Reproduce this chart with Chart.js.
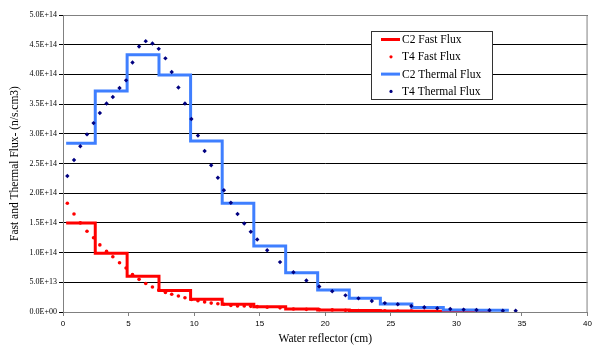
<!DOCTYPE html>
<html>
<head>
<meta charset="utf-8">
<script src="https://cdn.jsdelivr.net/npm/chart.js@4.4.1/dist/chart.umd.min.js"></script>
<style>
  body { margin: 0; background: #fff; }
  #wrap { width: 595px; height: 350px; }
</style>
</head>
<body>
<div id="wrap"><canvas id="flux-chart" width="595" height="350"></canvas></div>
<script>
// step boundaries (cm) and C2 levels
const thermalEdges = [0.24, 2.46, 4.89, 7.32, 9.73, 12.14, 14.55, 16.98, 19.42, 21.83, 24.2, 26.6, 29.0, 31.5, 34.0];
const c2Thermal = [2.84e14, 3.72e14, 4.33e14, 3.99e14, 2.88e14, 1.83e14, 1.11e14, 0.66e14, 0.37e14, 0.23e14, 0.135e14, 0.075e14, 0.035e14, 0.028e14];
const fastEdges = [0.24, 2.46, 4.89, 7.32, 9.73, 12.14, 14.55, 16.98, 19.42, 21.83, 24.2, 26.6, 29.0, 31.5, 32.6];
const c2Fast = [1.50e14, 0.99e14, 0.60e14, 0.36e14, 0.215e14, 0.13e14, 0.088e14, 0.05e14, 0.035e14, 0.025e14, 0.018e14, 0.012e14, 0.008e14, 0.006e14];

// T4 points
const t4X = [0.33, 0.84, 1.32, 1.83, 2.33, 2.81, 3.32, 3.80, 4.31, 4.81, 5.30, 5.80, 6.31, 6.82, 7.30, 7.81, 8.29, 8.80, 9.30, 9.79,
  10.29, 10.80, 11.30, 11.81, 12.27, 12.80, 13.31, 13.82, 14.32, 14.81, 15.57, 16.55, 17.57, 18.56, 19.54, 20.53, 21.54, 22.53, 23.55, 24.54,
  25.53, 26.56, 27.55, 28.54, 29.53, 30.55, 31.53, 32.52, 33.54, 34.52];
const t4Thermal = [2.29e14, 2.56e14, 2.79e14, 2.99e14, 3.18e14, 3.35e14, 3.51e14, 3.62e14, 3.77e14, 3.90e14, 4.20e14, 4.47e14, 4.56e14, 4.52e14, 4.43e14, 4.27e14, 4.04e14, 3.78e14, 3.51e14, 3.25e14,
  2.97e14, 2.71e14, 2.47e14, 2.26e14, 2.05e14, 1.84e14, 1.65e14, 1.49e14, 1.35e14, 1.22e14, 1.04e14, 0.84e14, 0.67e14, 0.53e14, 0.43e14, 0.35e14, 0.28e14, 0.23e14, 0.185e14, 0.15e14,
  0.13e14, 0.10e14, 0.08e14, 0.062e14, 0.05e14, 0.04e14, 0.034e14, 0.03e14, 0.02e14, 0.02e14];
const t4FastX = t4X.slice(0, 48);
const t4Fast = [1.83e14, 1.65e14, 1.50e14, 1.36e14, 1.25e14, 1.13e14, 1.02e14, 0.93e14, 0.83e14, 0.74e14, 0.63e14, 0.55e14, 0.48e14, 0.42e14, 0.37e14, 0.33e14, 0.30e14, 0.27e14, 0.24e14, 0.21e14,
  0.19e14, 0.17e14, 0.15e14, 0.14e14, 0.13e14, 0.11e14, 0.10e14, 0.10e14, 0.095e14, 0.09e14, 0.08e14, 0.07e14, 0.05e14, 0.045e14, 0.04e14, 0.035e14, 0.03e14, 0.025e14, 0.022e14, 0.02e14,
  0.017e14, 0.015e14, 0.012e14, 0.01e14, 0.009e14, 0.008e14, 0.007e14, 0.006e14];

const legendLabels = ['C2 Fast Flux', 'T4 Fast Flux', 'C2 Thermal Flux', 'T4 Thermal Flux'];

function steps(edges, levels) {
  return edges.map((x, i) => ({ x: x, y: levels[Math.min(i, levels.length - 1)] }));
}
function pts(xs, ys) {
  return xs.map((x, i) => ({ x: x, y: ys[i] }));
}
function sci(v) {
  if (v === 0) return '0.0E+00';
  let s = v.toExponential(1).toUpperCase();
  return s.replace(/E([+-])(\d)$/, 'E$10$2');
}

// plot border + legend drawn inside the plot
const boxPlugin = {
  id: 'boxLegend',
  afterDraw(chart) {
    const ctx = chart.ctx, a = chart.chartArea;
    ctx.save();
    ctx.strokeStyle = '#808080';
    ctx.lineWidth = 1;
    ctx.beginPath();
    ctx.moveTo(a.left, a.top + 0.5);
    ctx.lineTo(a.right - 0.5, a.top + 0.5);
    ctx.lineTo(a.right - 0.5, a.bottom);
    ctx.stroke();

    const bx = 371.5, by = 31.5, bw = 121, bh = 68;
    ctx.fillStyle = '#fff';
    ctx.fillRect(bx, by, bw, bh);
    ctx.strokeStyle = '#333';
    ctx.strokeRect(bx, by, bw, bh);
    ctx.font = '11.5px "Liberation Serif"';
    ctx.textBaseline = 'middle';
    chart.data.datasets.forEach((ds, i) => {
      const y = 39.5 + i * 17.3;
      if (ds.showLine === false) {
        ctx.fillStyle = ds.pointBackgroundColor;
        ctx.beginPath();
        ctx.arc(391, y, 1.6, 0, Math.PI * 2);
        ctx.fill();
      } else {
        ctx.strokeStyle = ds.borderColor;
        ctx.lineWidth = 3;
        ctx.beginPath();
        ctx.moveTo(381, y);
        ctx.lineTo(400, y);
        ctx.stroke();
      }
      ctx.fillStyle = '#000';
      ctx.fillText(ds.label, 402, y + 0.5);
    });
    ctx.restore();
  }
};

new Chart(document.getElementById('flux-chart'), {
  type: 'line',
  data: {
    datasets: [{
      label: legendLabels[0],
      data: steps(fastEdges, c2Fast),
      borderColor: '#FF0000',
      borderWidth: 3,
      stepped: true,
      pointRadius: 0,
      order: 3,
    }, {
      label: legendLabels[1],
      data: pts(t4FastX, t4Fast),
      showLine: false,
      pointStyle: 'circle',
      pointRadius: 1.8,
      pointBorderWidth: 0,
      pointBackgroundColor: '#FF0000',
      order: 2,
    }, {
      label: legendLabels[2],
      data: steps(thermalEdges, c2Thermal),
      borderColor: '#3F7FFF',
      borderWidth: 3,
      stepped: true,
      pointRadius: 0,
      order: 1,
    }, {
      label: legendLabels[3],
      data: pts(t4X, t4Thermal),
      showLine: false,
      pointStyle: 'rectRot',
      pointRadius: 2.2,
      pointBorderWidth: 0,
      pointBackgroundColor: '#000080',
      order: 0,
    }]
  },
  options: {
    responsive: false,
    animation: false,
    layout: { padding: { top: 15, right: 6, left: 0, bottom: 0 } },
    plugins: {
      legend: { display: false },
      tooltip: { enabled: false }
    },
    scales: {
      x: {
        type: 'linear',
        min: 0,
        max: 40,
        afterFit: (s) => { s.height = 38; },
        border: { color: '#808080' },
        grid: { drawOnChartArea: false, tickLength: 4, color: '#808080' },
        ticks: { stepSize: 5, padding: 3, color: '#000', font: { family: 'Liberation Sans', size: 8 } },
        title: {
          display: true,
          text: 'Water reflector (cm)',
          color: '#000',
          padding: { top: 0, bottom: 4 },
          font: { family: 'Liberation Serif', size: 11.5 }
        }
      },
      y: {
        min: 0,
        max: 5e14,
        afterFit: (s) => { s.width = 63; },
        border: { color: '#808080' },
        grid: { color: '#000', tickLength: 4 },
        ticks: { stepSize: 5e13, padding: 2, color: '#000', callback: (v) => sci(v), font: { family: 'Liberation Serif', size: 8 } },
        title: {
          display: true,
          text: 'Fast and Thermal Flux- (n/s.cm3)',
          color: '#000',
          padding: { top: 8, bottom: 0 },
          font: { family: 'Liberation Serif', size: 11.5 }
        }
      }
    }
  },
  plugins: [boxPlugin]
});
</script>
</body>
</html>
